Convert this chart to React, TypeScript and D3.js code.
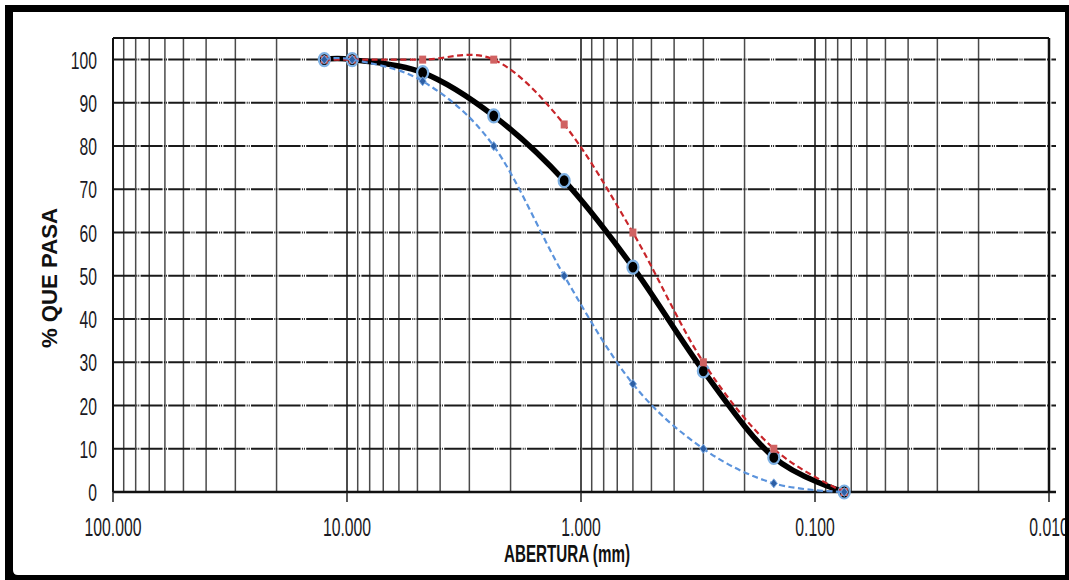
import React from "react";
import * as d3 from "d3";

// granulometria: abertura del tamiz (mm) vs % que pasa
const aberturas = [12.5, 9.5, 4.75, 2.36, 1.18, 0.6, 0.3, 0.15, 0.075];
const pasaMuestra = [100, 100, 97, 87, 72, 52, 28, 8, 0];
const limiteSuperior = [100, 100, 100, 100, 85, 60, 30, 10, 0];
const limiteInferior = [100, 100, 95, 80, 50, 25, 10, 2, 0];

const xTicks = [100, 10, 1, 0.1, 0.01];
const xTickLabels = ["100.000", "10.000", "1.000", "0.100", "0.010"];
const yTicks = [0, 10, 20, 30, 40, 50, 60, 70, 80, 90, 100];

const W = 1069;
const H = 580;
const left = 113;
const right = 1049;
const top = 38;
const bottom = 492;

const x = d3.scaleLog().domain([100, 0.01]).range([left, right]);
const y = d3.scaleLinear().domain([0, 105]).range([bottom, top]);

const line = d3
  .line<number>()
  .x((d, i) => x(aberturas[i]))
  .y((d) => y(d))
  .curve(d3.curveCatmullRom.alpha(0));

const fnt = "'Liberation Sans', Arial, sans-serif";

export default function App() {
  const minor = x.ticks().filter((v) => v < 100 && v > 0.01);

  return (
    <svg
      width={W}
      height={H}
      style={{ position: "absolute", left: 0, top: 0, display: "block", background: "#fff" }}
    >
      {/* vertical grid */}
      {minor.map((v, i) => {
        const dec = Math.abs(Math.log10(v) - Math.round(Math.log10(v))) < 1e-9;
        return (
          <line
            key={"v" + i}
            x1={x(v)}
            x2={x(v)}
            y1={top}
            y2={bottom}
            stroke={dec ? "#111" : "#4a4a4a"}
            strokeWidth={1.5}
          />
        );
      })}
      {/* horizontal grid */}
      {yTicks.slice(1).map((t) => (
        <line
          key={"h" + t}
          x1={left}
          x2={right + 7}
          y1={y(t)}
          y2={y(t)}
          stroke="#1a1a1a"
          strokeWidth={2}
          strokeDasharray="22 1.3 1 1 1 1.3"
        />
      ))}
      {/* frame */}
      <line x1={left} x2={right} y1={top} y2={top} stroke="#111" strokeWidth={2} />
      <line x1={left} x2={left} y1={top} y2={bottom} stroke="#111" strokeWidth={2} />
      <line x1={right} x2={right} y1={top} y2={bottom} stroke="#111" strokeWidth={2.5} />
      <line x1={left} x2={right + 7} y1={bottom} y2={bottom} stroke="#111" strokeWidth={2.5} />
      {xTicks.map((t) => (
        <line key={"xt" + t} x1={x(t)} x2={x(t)} y1={bottom} y2={bottom + 10} stroke="#222" strokeWidth={1.5} />
      ))}

      {/* y labels */}
      {yTicks.map((t) => (
        <text
          key={"yl" + t}
          transform={`translate(97,${y(t) + 9}) scale(0.64,1)`}
          textAnchor="end"
          fontFamily={fnt}
          fontSize={24.5}
          fill="#1a1a24"
        >
          {t}
        </text>
      ))}
      {/* x labels */}
      {xTicks.map((t, i) => (
        <text
          key={"xl" + t}
          transform={`translate(${x(t)},536) scale(0.63,1)`}
          textAnchor="middle"
          fontFamily={fnt}
          fontSize={25}
          fill="#1a1a24"
        >
          {xTickLabels[i]}
        </text>
      ))}

      {/* axis titles */}
      <text
        transform="translate(57,278) rotate(-90)"
        textAnchor="middle"
        fontFamily={fnt}
        fontWeight="bold"
        fontSize={22}
        textLength={140}
        lengthAdjust="spacingAndGlyphs"
        fill="#111"
      >
        % QUE PASA
      </text>
      <text
        x={567}
        y={562}
        textAnchor="middle"
        fontFamily={fnt}
        fontWeight="bold"
        fontSize={23}
        textLength={126}
        lengthAdjust="spacingAndGlyphs"
        fill="#111"
      >
        ABERTURA (mm)
      </text>

      {/* muestra */}
      <path d={line(pasaMuestra) || ""} fill="none" stroke="#000" strokeWidth={5.5} />
      {pasaMuestra.map((v, i) => (
        <ellipse
          key={"m" + i}
          cx={x(aberturas[i])}
          cy={y(v)}
          rx={5.5}
          ry={6.5}
          fill="#000"
          stroke="#7fb2e5"
          strokeWidth={2.2}
        />
      ))}

      {/* limite superior */}
      <path
        d={line(limiteSuperior) || ""}
        fill="none"
        stroke="#c8252a"
        strokeWidth={2.2}
        strokeDasharray="6 3.5"
      />
      {limiteSuperior.map((v, i) => (
        <rect
          key={"s" + i}
          x={x(aberturas[i]) - 3.5}
          y={y(v) - 4}
          width={7}
          height={8}
          fill="#d06262"
        />
      ))}

      {/* limite inferior */}
      <path
        d={line(limiteInferior) || ""}
        fill="none"
        stroke="#5b93dc"
        strokeWidth={2.2}
        strokeDasharray="6 3.5"
      />
      {limiteInferior.map((v, i) => {
        const cx = x(aberturas[i]);
        const cy = y(v);
        return (
          <path
            key={"i" + i}
            d={`M${cx},${cy - 4.5}L${cx + 3.5},${cy}L${cx},${cy + 4.5}L${cx - 3.5},${cy}Z`}
            fill="#2d5fa5"
            stroke="#7aa8e0"
            strokeWidth={1}
          />
        );
      })}

      {/* outer border */}
      <path
        d={`M5,5H${W}V${H}H5Z M13,12V570Q13,575 18,575H1065V12Z`}
        fill="#000"
        fillRule="evenodd"
      />
    </svg>
  );
}
